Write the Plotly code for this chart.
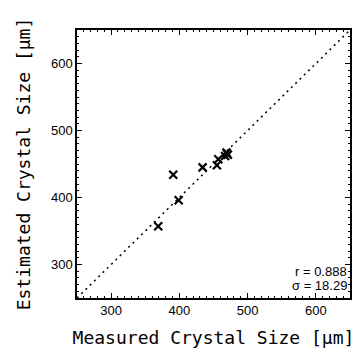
import plotly.graph_objects as go

measured = [369, 391, 399, 434, 455, 457, 467, 469, 471]
estimated = [357, 434, 396, 445, 448, 457, 462, 467, 464]
diag = [250, 650]
x_ticks = [300, 400, 500, 600]
y_ticks = [300, 400, 500, 600]
r_text = "r = 0.888"
s_text = "σ = 18.29"

fig = go.Figure()
fig.add_trace(go.Scatter(x=diag, y=diag, mode="lines",
                         line=dict(color="black", width=1.5, dash="2px,4px"),
                         showlegend=False, hoverinfo="skip"))
fig.add_trace(go.Scatter(x=measured, y=estimated, mode="markers",
                         marker=dict(symbol="x-thin-open", size=8, color="black",
                                     line=dict(color="black", width=2.2)),
                         showlegend=False))

tickfont = dict(family="Liberation Sans, Arial", size=13, color="black")
titlefont = dict(family="DejaVu Sans Mono", size=18, color="black")
axis_common = dict(showgrid=False, zeroline=False, showline=True, linecolor="black",
                   linewidth=1.5, mirror="allticks", ticks="inside", ticklen=5,
                   tickwidth=1.2, tickcolor="black", tickfont=tickfont,
                   minor=dict(ticks="inside", ticklen=2, tickwidth=1, tickcolor="black", dtick=10))

fig.update_xaxes(range=[250, 650], tickvals=x_ticks, ticktext=[str(v) for v in x_ticks],
                 title=dict(text="Measured Crystal Size [μm]", font=titlefont, standoff=14),
                 **axis_common)
fig.update_yaxes(range=[250, 650], tickvals=y_ticks, ticktext=[str(v) for v in y_ticks],
                 title=dict(text="Estimated Crystal Size [μm]", font=titlefont, standoff=16),
                 **axis_common)

fig.add_annotation(xref="paper", yref="paper", x=0.995, y=0.065, xanchor="right", yanchor="bottom",
                   text=r_text, showarrow=False,
                   font=dict(family="Liberation Sans, Arial", size=13, color="black"))
fig.add_annotation(xref="paper", yref="paper", x=0.995, y=0.01, xanchor="right", yanchor="bottom",
                   text=s_text, showarrow=False,
                   font=dict(family="Liberation Sans, Arial", size=13, color="black"))

fig.update_layout(width=354, height=353, margin=dict(l=77, r=2, t=30, b=55),
                  plot_bgcolor="white", paper_bgcolor="white")
fig.write_html("out.html", config={"displayModeBar": False},
               post_script="document.body.style.margin='0';document.body.style.overflow='hidden';")
